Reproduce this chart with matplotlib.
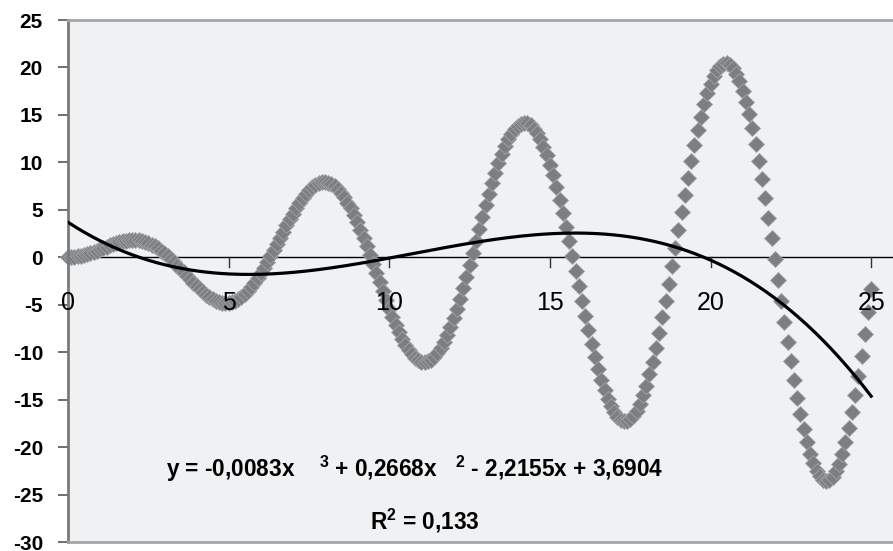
import numpy as np
import matplotlib.pyplot as plt

plt.rcParams["mathtext.fontset"] = "custom"
plt.rcParams["mathtext.rm"] = "Liberation Sans:bold"
plt.rcParams["mathtext.it"] = "Liberation Sans:bold"
plt.rcParams["mathtext.bf"] = "Liberation Sans:bold"

# scatter data, x from 0 to 25 in steps of 0.1
x_step = 0.1
y_values = [
    0.00, 0.01, 0.04, 0.09, 0.16, 0.24, 0.34, 0.45, 0.57, 0.71, 0.84, 0.98, 1.12, 1.25, 1.38, 1.50,
    1.60, 1.69, 1.75, 1.80, 1.82, 1.81, 1.78, 1.72, 1.62, 1.50, 1.34, 1.15, 0.94, 0.69, 0.42, 0.13,
    -0.19, -0.52, -0.87, -1.23, -1.59, -1.96, -2.33, -2.68, -3.03, -3.35, -3.66, -3.94, -4.19, -4.40, -4.57, -4.70,
    -4.78, -4.81, -4.79, -4.72, -4.59, -4.41, -4.17, -3.88, -3.54, -3.14, -2.69, -2.21, -1.68, -1.11, -0.52,
    0.11, 0.75, 1.40, 2.06, 2.71, 3.36, 3.99, 4.60, 5.18, 5.71, 6.21, 6.65, 7.04, 7.36, 7.61, 7.79,
    7.89, 7.91, 7.86, 7.71, 7.49, 7.18, 6.79, 6.32, 5.77, 5.15, 4.46, 3.71, 2.90, 2.05, 1.16, 0.23,
    -0.71, -1.67, -2.64, -3.59, -4.53, -5.44, -6.31, -7.14, -7.91, -8.61, -9.24, -9.78, -10.24, -10.59, -10.85, -11.00,
    -11.04, -10.97, -10.78, -10.48, -10.07, -9.54, -8.92, -8.18, -7.36, -6.44, -5.44, -4.37, -3.24, -2.05, -0.83,
    0.42, 1.69, 2.96, 4.22, 5.46, 6.66, 7.82, 8.91, 9.92, 10.85, 11.68, 12.41, 13.02, 13.51, 13.87, 14.09,
    14.17, 14.11, 13.91, 13.56, 13.06, 12.43, 11.67, 10.77, 9.75, 8.63, 7.39, 6.07, 4.67, 3.20, 1.68, 0.13,
    -1.45, -3.03, -4.61, -6.15, -7.65, -9.10, -10.47, -11.74, -12.92, -13.98, -14.91, -15.70, -16.34, -16.83, -17.15, -17.30,
    -17.27, -17.07, -16.70, -16.15, -15.44, -14.56, -13.52, -12.33, -11.01, -9.56, -8.00, -6.34, -4.59, -2.79, -0.93,
    0.95, 2.85, 4.73, 6.59, 8.40, 10.15, 11.81, 13.37, 14.81, 16.11, 17.27, 18.26, 19.08, 19.71, 20.15, 20.40,
    20.44, 20.27, 19.90, 19.32, 18.54, 17.57, 16.41, 15.08, 13.58, 11.93, 10.14, 8.24, 6.23, 4.14, 1.99,
    -0.19, -2.40, -4.60, -6.78, -8.91, -10.96, -12.93, -14.78, -16.50, -18.06, -19.46, -20.68, -21.70, -22.51, -23.09, -23.45,
    -23.58, -23.47, -23.13, -22.55, -21.73, -20.69, -19.44, -17.98, -16.32, -14.49, -12.49, -10.36, -8.10, -5.74, -3.31,
]

# polynomial trendline as printed on the chart (highest power first)
trend_coefs = [-0.0083, 0.2668, -2.2155, 3.6904]
trend_label = r"y = -0,0083x    $^{3}$ + 0,2668x   $^{2}$ - 2,2155x + 3,6904"
r2_label = r"R$^{2}$ = 0,133"

x_ticks = [0, 5, 10, 15, 20, 25]
y_ticks = [-30, -25, -20, -15, -10, -5, 0, 5, 10, 15, 20, 25]

x_vals = np.arange(len(y_values)) * x_step
y_vals = np.array(y_values)

fig = plt.figure(figsize=(8.93, 5.51), dpi=100)
ax = fig.add_axes([68 / 893, 1 - 542 / 551, 1 - 68 / 893, (542 - 20) / 551])
ax.set_facecolor("#eff1f3")

ax.set_xlim(0, 25.68)
ax.set_ylim(-30, 25)

# x axis crossing at y = 0
ax.axhline(0, color="black", lw=1.0, zorder=1)

ax.plot(x_vals, y_vals, linestyle="none", marker="D", ms=8.5,
        mfc="#7c7f82", mec="#a2a5a8", mew=0.6, zorder=2, clip_on=False)

xt = np.linspace(0, 25, 300)
ax.plot(xt, np.polyval(trend_coefs, xt), color="black", lw=2.3, zorder=3)

for s in ["top", "bottom"]:
    ax.spines[s].set_color("#a3a6a9")
    ax.spines[s].set_linewidth(2)
ax.spines["left"].set_color("#7a7a7a")
ax.spines["left"].set_linewidth(2)
ax.spines["right"].set_visible(False)

narrow = ["Liberation Sans Narrow", "Liberation Sans", "DejaVu Sans"]

ax.set_yticks(y_ticks)
ax.set_yticklabels([str(v) for v in y_ticks], fontsize=15, fontweight="bold",
                   family=["Liberation Sans", "DejaVu Sans"])
ax.tick_params(axis="y", direction="out", length=7, width=1.2, color="#555555", pad=11)

# x ticks drawn on the zero line, labels under it
ax.set_xticks([])
for t in x_ticks:
    ax.plot([t, t], [0, -1.0], color="#333333", lw=1.0, zorder=1)
    ax.text(t, -3.6, str(t), ha="center", va="top", fontsize=18, family=narrow,
            color="black", zorder=4)

ax.text(3.05, -22.3, trend_label, ha="left", va="center", fontsize=16.3,
        fontweight="bold", family=["Liberation Sans", "DejaVu Sans"])
ax.text(11.1, -27.8, r2_label, ha="center", va="center", fontsize=16.3,
        fontweight="bold", family=["Liberation Sans", "DejaVu Sans"])

fig.savefig("out.png", dpi=100)
